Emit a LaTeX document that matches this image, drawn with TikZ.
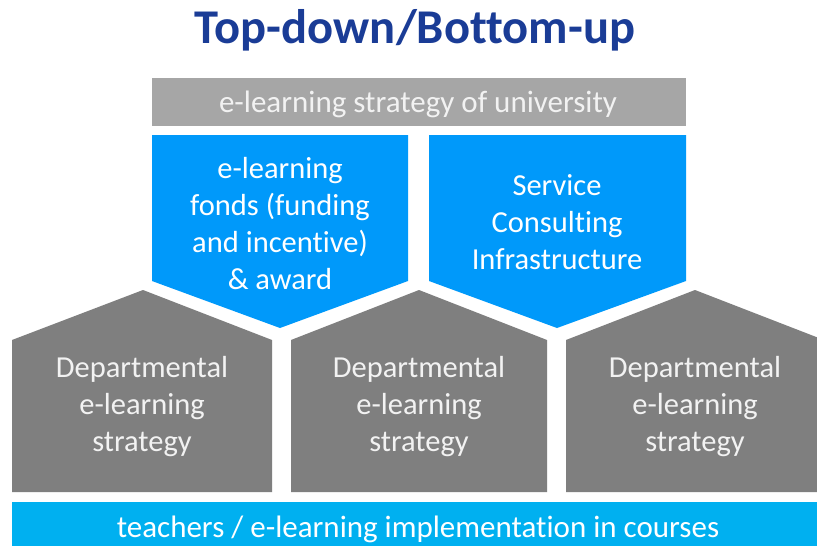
\documentclass[tikz,border=0pt]{standalone}
\usepackage{fontspec}
\setmainfont{Carlito}[Ligatures=NoCommon]
\definecolor{titleblue}{HTML}{1A3C96}
\definecolor{barGray}{HTML}{A6A6A6}
\definecolor{houseGray}{HTML}{7F7F7F}
\definecolor{arrowBlue}{HTML}{0099FA}
\definecolor{baseCyan}{HTML}{00B0F0}
\definecolor{paleText}{HTML}{F2F2F2}
\begin{document}
\begin{tikzpicture}[x=1pt,y=-1pt,
  lbl/.style={text=white,align=center,inner sep=0pt,font=\fontsize{30.5}{37}\selectfont},
  barlbl/.style={text=white,inner sep=0pt,anchor=base,font=\fontsize{31}{36}\selectfont}]
\clip (0,0) rectangle (817,546);
\fill[white] (0,0) rectangle (817,546);

% title
\node[text=titleblue,inner sep=0pt,anchor=base,font=\bfseries\fontsize{48.5}{56}\selectfont] (title) at (415,43) {Top-down/Bottom-up};

% university strategy bar
\fill[barGray] (152,78) rectangle (686,126);
\node[barlbl,text=paleText] (uni) at (418,112) {e-learning strategy of university};

% central offers, pointing down
\fill[arrowBlue] (152,135) -- (408,135) -- (408,281) -- (280,328) -- (152,281) -- cycle;
\fill[arrowBlue] (429,135) -- (686,135) -- (686,281) -- (557,328) -- (429,281) -- cycle;
\node[lbl] (fonds) at (280,224) {e-learning\\fonds (funding\\and incentive)\\\& award};
\node[lbl] (service) at (557,222) {Service\\Consulting\\Infrastructure};

% departments, pointing up
\fill[houseGray] (12,492) -- (12,340) -- (143,290) -- (272,340) -- (272,492) -- cycle;
\fill[houseGray] (291,492) -- (291,340) -- (419,290) -- (547,340) -- (547,492) -- cycle;
\fill[houseGray] (566,492) -- (566,340) -- (695,290) -- (824,340) -- (824,492) -- cycle;
\node[lbl,text=paleText] (dep1) at (142,407) {Departmental\\e-learning\\strategy};
\node[lbl,text=paleText] (dep2) at (419,407) {Departmental\\e-learning\\strategy};
\node[lbl,text=paleText] (dep3) at (695,407) {Departmental\\e-learning\\strategy};

% teaching base
\fill[baseCyan] (12,502) rectangle (830,560);
\node[barlbl] (teach) at (418,537) {teachers / e-learning implementation in courses};
\end{tikzpicture}
\end{document}
